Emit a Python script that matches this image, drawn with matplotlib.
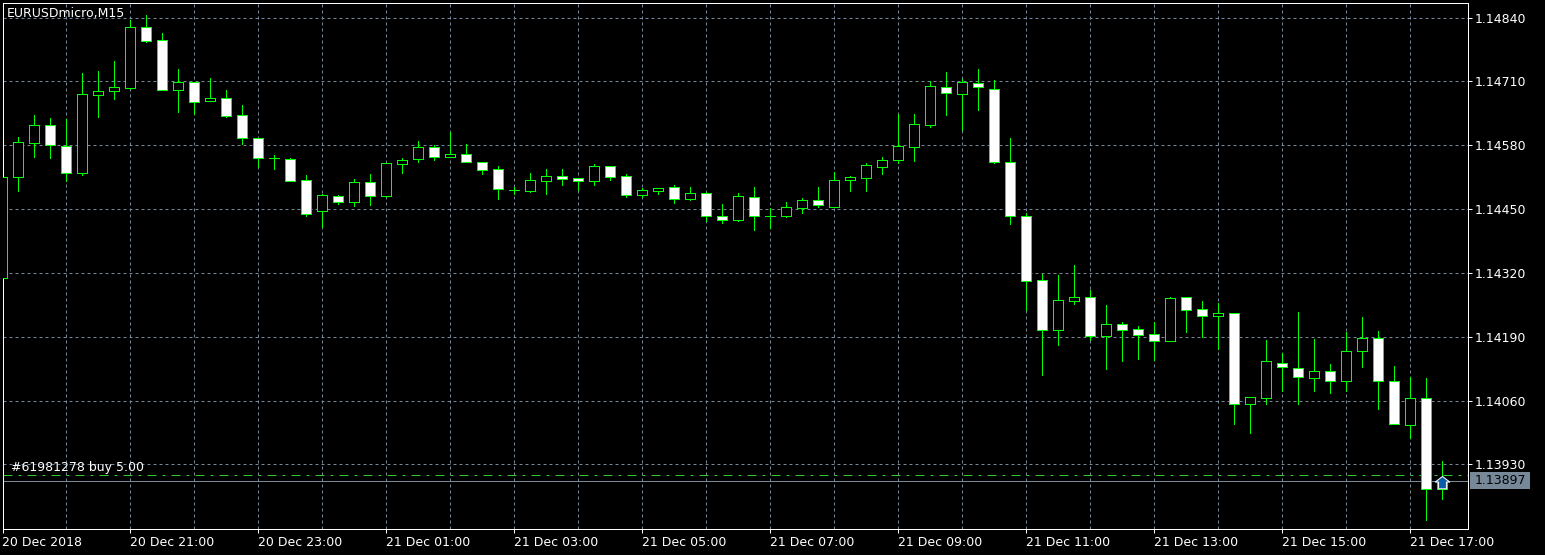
#!/usr/bin/env python
import matplotlib
matplotlib.use('Agg')
import matplotlib.pyplot as plt
from matplotlib.path import Path
from matplotlib.patches import Rectangle
from matplotlib.ticker import FixedLocator

# one entry per M15 candle, index 0 is 20 Dec 19:00
opens = [1.14310, 1.14515, 1.14585, 1.14621, 1.14578, 1.14523, 1.14683, 1.14690, 1.14697, 1.14822,
         1.14794, 1.14692, 1.14708, 1.14670, 1.14676, 1.14641, 1.14594, 1.14555, 1.14553, 1.14509,
         1.14446, 1.14477, 1.14464, 1.14505, 1.14477, 1.14542, 1.14553, 1.14576, 1.14557, 1.14562,
         1.14547, 1.14531, 1.14488, 1.14487, 1.14508, 1.14517, 1.14513, 1.14508, 1.14537, 1.14517,
         1.14479, 1.14487, 1.14496, 1.14471, 1.14482, 1.14437, 1.14428, 1.14474, 1.14437, 1.14437,
         1.14453, 1.14468, 1.14455, 1.14510, 1.14514, 1.14536, 1.14551, 1.14577, 1.14622, 1.14699,
         1.14684, 1.14707, 1.14694, 1.14547, 1.14435, 1.14305, 1.14204, 1.14263, 1.14272, 1.14192,
         1.14215, 1.14205, 1.14195, 1.14182, 1.14270, 1.14246, 1.14233, 1.14238, 1.14054, 1.14066,
         1.14136, 1.14127, 1.14105, 1.14120, 1.14099, 1.14160, 1.14187, 1.14099, 1.14010, 1.14065,
         1.13879]
highs = [1.14515, 1.14597, 1.14641, 1.14636, 1.14633, 1.14727, 1.14731, 1.14752, 1.14835, 1.14845,
         1.14809, 1.14735, 1.14709, 1.14717, 1.14693, 1.14662, 1.14595, 1.14560, 1.14555, 1.14519,
         1.14481, 1.14478, 1.14511, 1.14522, 1.14544, 1.14554, 1.14588, 1.14580, 1.14608, 1.14583,
         1.14547, 1.14538, 1.14495, 1.14524, 1.14531, 1.14531, 1.14513, 1.14542, 1.14538, 1.14522,
         1.14493, 1.14494, 1.14499, 1.14495, 1.14485, 1.14460, 1.14482, 1.14495, 1.14452, 1.14464,
         1.14472, 1.14495, 1.14526, 1.14517, 1.14543, 1.14556, 1.14643, 1.14643, 1.14710, 1.14729,
         1.14716, 1.14735, 1.14713, 1.14595, 1.14443, 1.14318, 1.14316, 1.14336, 1.14285, 1.14254,
         1.14220, 1.14212, 1.14221, 1.14272, 1.14270, 1.14263, 1.14258, 1.14238, 1.14067, 1.14183,
         1.14156, 1.14240, 1.14185, 1.14134, 1.14199, 1.14230, 1.14201, 1.14130, 1.14107, 1.14105,
         1.13936]
lows = [1.14310, 1.14487, 1.14557, 1.14555, 1.14508, 1.14519, 1.14638, 1.14675, 1.14694, 1.14791,
        1.14692, 1.14648, 1.14644, 1.14670, 1.14638, 1.14583, 1.14536, 1.14532, 1.14508, 1.14437,
        1.14414, 1.14461, 1.14457, 1.14458, 1.14475, 1.14524, 1.14547, 1.14551, 1.14557, 1.14547,
        1.14522, 1.14471, 1.14480, 1.14485, 1.14481, 1.14500, 1.14489, 1.14500, 1.14509, 1.14475,
        1.14475, 1.14481, 1.14463, 1.14469, 1.14426, 1.14422, 1.14426, 1.14407, 1.14412, 1.14434,
        1.14443, 1.14455, 1.14455, 1.14487, 1.14487, 1.14522, 1.14543, 1.14549, 1.14618, 1.14642,
        1.14611, 1.14652, 1.14544, 1.14420, 1.14244, 1.14113, 1.14173, 1.14257, 1.14183, 1.14125,
        1.14141, 1.14145, 1.14143, 1.14182, 1.14200, 1.14190, 1.14166, 1.14013, 1.13993, 1.14054,
        1.14080, 1.14052, 1.14080, 1.14076, 1.14080, 1.14129, 1.14043, 1.14012, 1.13984, 1.13817,
        1.13860]
closes = [1.14515, 1.14586, 1.14621, 1.14580, 1.14523, 1.14684, 1.14690, 1.14698, 1.14822, 1.14793,
          1.14692, 1.14708, 1.14669, 1.14676, 1.14640, 1.14594, 1.14555, 1.14554, 1.14508, 1.14441,
          1.14478, 1.14464, 1.14505, 1.14477, 1.14544, 1.14551, 1.14576, 1.14557, 1.14562, 1.14547,
          1.14530, 1.14490, 1.14488, 1.14509, 1.14517, 1.14512, 1.14508, 1.14537, 1.14516, 1.14479,
          1.14488, 1.14494, 1.14471, 1.14482, 1.14437, 1.14428, 1.14476, 1.14435, 1.14437, 1.14454,
          1.14468, 1.14459, 1.14509, 1.14515, 1.14539, 1.14551, 1.14578, 1.14623, 1.14700, 1.14686,
          1.14708, 1.14698, 1.14547, 1.14435, 1.14304, 1.14204, 1.14264, 1.14272, 1.14192, 1.14215,
          1.14204, 1.14194, 1.14182, 1.14268, 1.14245, 1.14233, 1.14238, 1.14054, 1.14067, 1.14140,
          1.14128, 1.14107, 1.14120, 1.14099, 1.14160, 1.14187, 1.14099, 1.14012, 1.14065, 1.13879,
          1.13897]

price_ticks = [1.14840, 1.14710, 1.14580, 1.14450, 1.14320, 1.14190, 1.14060, 1.13930]
time_labels = ['20 Dec 2018', '20 Dec 21:00', '20 Dec 23:00', '21 Dec 01:00', '21 Dec 03:00', '21 Dec 05:00',
               '21 Dec 07:00', '21 Dec 09:00', '21 Dec 11:00', '21 Dec 13:00', '21 Dec 15:00', '21 Dec 17:00']
bid_price = 1.13897
order_price = 1.13908
order_label = '#61981278 buy 5.00'
symbol_label = 'EURUSDmicro,M15'

GRID = '#778899'
GREEN = '#00ff00'
W, H = 1545, 555
L, R, T, B = 2.5, 1467.5, 2.5, 528.5
TEXT = 9.0

plt.rcParams['font.family'] = ['DejaVu Sans']
fig = plt.figure(figsize=(W / 100, H / 100), dpi=100, facecolor='black')
ax = fig.add_axes([L / W, 1 - B / H, (R - L) / W, (B - T) / H], facecolor='black')
ax.set_xlim(0.0, 91.575)
ax.set_ylim(1.137994, 1.148709)

idx = list(range(len(opens)))
px = 0.72

# grid
ax.xaxis.set_major_locator(FixedLocator(range(0, 89, 8)))
ax.xaxis.set_minor_locator(FixedLocator(range(4, 89, 8)))
ax.set_yticks(price_ticks)
ax.grid(True, which='both', color=GRID, lw=px, linestyle=(0, (3, 3)), zorder=1)
ax.set_axisbelow(True)

# wicks then bodies
ax.vlines(idx, lows, highs, colors=GREEN, lw=px, zorder=3, antialiased=False)
for i in idx:
    bull = closes[i] >= opens[i]
    low_b = min(opens[i], closes[i])
    height = abs(closes[i] - opens[i])
    ax.bar(i, height, bottom=low_b, width=0.625, facecolor='black' if bull else 'white',
           edgecolor=GREEN, lw=px, zorder=4, antialiased=False)

# order and bid lines
ax.axhline(order_price, color='#32cd32', lw=px, linestyle=(0, (9, 6, 3, 6)), zorder=2)
ax.axhline(bid_price, color=GRID, lw=px, zorder=2)

# open trade arrow on the last candle
arrow = Path([(-6.5, -0.5), (0, 4.5), (6.5, -0.5), (3.5, -0.5), (3.5, -6.5), (-3.5, -6.5), (-3.5, -0.5), (-6.5, -0.5)],
             closed=True)
ax.plot([90], [bid_price], marker=arrow, ms=10.5, mfc='#0a5ca8', mec='white', mew=px, zorder=5, clip_on=False)

fig.text(7 / W, 1 - 13 / H, symbol_label, color='white', fontsize=TEXT, va='center', ha='left')
fig.text(11 / W, 1 - 467 / H, order_label, color='white', fontsize=TEXT, va='center', ha='left')

# axes
for spine in ax.spines.values():
    spine.set_color('white')
    spine.set_linewidth(px)
ax.yaxis.tick_right()
ax.set_yticklabels(['%.5f' % p for p in price_ticks])
ax.set_xticklabels(time_labels, ha='left')
ax.tick_params(axis='both', which='major', colors='white', labelsize=TEXT, length=3.0, width=px)
ax.tick_params(axis='x', which='major', pad=2.5)
ax.tick_params(axis='y', which='major', pad=2.0)
ax.tick_params(axis='x', which='minor', length=0)

# current price box on the right axis
fig.add_artist(Rectangle((1470 / W, 1 - 489 / H), 60 / W, 17 / H, transform=fig.transFigure,
                         facecolor=GRID, edgecolor='none'))
fig.text(1475 / W, 1 - 480.5 / H, '%.5f' % bid_price, color='black', fontsize=TEXT, va='center', ha='left')

fig.savefig('out.png', dpi=100, facecolor='black')
